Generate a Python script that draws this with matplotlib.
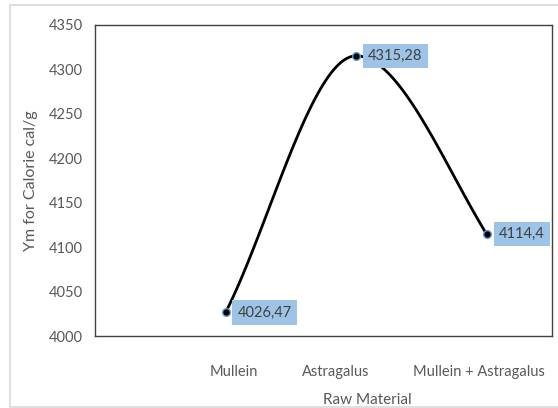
import numpy as np
import matplotlib
matplotlib.use("Agg")
import matplotlib.pyplot as plt
from matplotlib.patches import Rectangle


# ===== DATA =====
materials = ["Mullein", "Astragalus", "Mullein + Astragalus"]
calorie = [4026.47, 4315.28, 4114.4]
value_labels = ["4026,47", "4315,28", "4114,4"]
y_ticks = [4000, 4050, 4100, 4150, 4200, 4250, 4300, 4350]

# label placement as it sits in the original (Excel) layout
label_shift = [0.06, -0.16, -0.06]


# ===== SMOOTH CURVE =====
def smooth_curve(xs, ys, end_scale=(1.0, 1.2), n=60):
    xs = np.asarray(xs, float)
    ys = np.asarray(ys, float)
    slopes = np.diff(ys) / np.diff(xs)
    d = np.zeros_like(ys)
    d[0] = slopes[0] * end_scale[0]
    d[-1] = slopes[-1] * end_scale[1]
    for i in range(1, len(ys) - 1):
        if slopes[i - 1] * slopes[i] > 0:
            d[i] = (slopes[i - 1] + slopes[i]) / 2
    out_x, out_y = [], []
    for i in range(len(xs) - 1):
        h = xs[i + 1] - xs[i]
        t = np.linspace(0, 1, n)
        h00 = 2 * t**3 - 3 * t**2 + 1
        h10 = t**3 - 2 * t**2 + t
        h01 = -2 * t**3 + 3 * t**2
        h11 = t**3 - t**2
        out_x.append(xs[i] + t * h)
        out_y.append(h00 * ys[i] + h10 * h * d[i] + h01 * ys[i + 1] + h11 * h * d[i + 1])
    return np.concatenate(out_x), np.concatenate(out_y)


plt.rcParams['font.family'] = ['Lato', 'DejaVu Sans']
text_gray = "#595959"

fig = plt.figure(figsize=(5.58, 4.08), dpi=100)
ax = fig.add_axes([95 / 558, 1 - 336 / 408, 457 / 558, 311 / 408])

# outer chart frame
fig.patches.append(Rectangle((10 / 558, 1 - 407 / 408), 1.2, 402 / 408,
                             transform=fig.transFigure, fill=False,
                             edgecolor="#d9d9d9", linewidth=1.2))

x = np.arange(len(materials))
cx, cy = smooth_curve(x, calorie)
ax.plot(cx, cy, color="black", linewidth=2.0, zorder=2, solid_capstyle="round")
ax.plot(x, calorie, linestyle="none", marker="o", markersize=5.5,
        markerfacecolor="black", markeredgecolor="#5b9bd5", markeredgewidth=1.0, zorder=3)

for xi, yi, lab in zip(x, calorie, value_labels):
    ax.annotate(lab, (xi, yi), xytext=(12, 0), textcoords="offset pixels",
                ha="left", va="center", fontsize=10.5, color="#404040", zorder=4,
                bbox=dict(boxstyle="square,pad=0.35", facecolor="#9dc3e6", edgecolor="none"))

ax.set_xlim(-1, 2.5)
ax.set_ylim(4000, 4350)
ax.set_yticks(y_ticks)
ax.set_xticks(x + np.array(label_shift))
ax.set_xticklabels(materials)
ax.tick_params(axis="both", length=0, labelsize=10.5, labelcolor=text_gray)
ax.tick_params(axis="y", pad=9)
ax.tick_params(axis="x", pad=21)

ax.set_ylabel("Ym for Calorie cal/g", fontsize=11.5, color=text_gray)
ax.yaxis.set_label_coords(-57 / 457, 0.5)
ax.set_xlabel("Raw Material", fontsize=11, color=text_gray)
ax.xaxis.set_label_coords((367 - 95) / 457, -57 / 311)

for s in ax.spines.values():
    s.set_color("#404040")
    s.set_linewidth(1.0)

fig.savefig("out.png", dpi=100)
